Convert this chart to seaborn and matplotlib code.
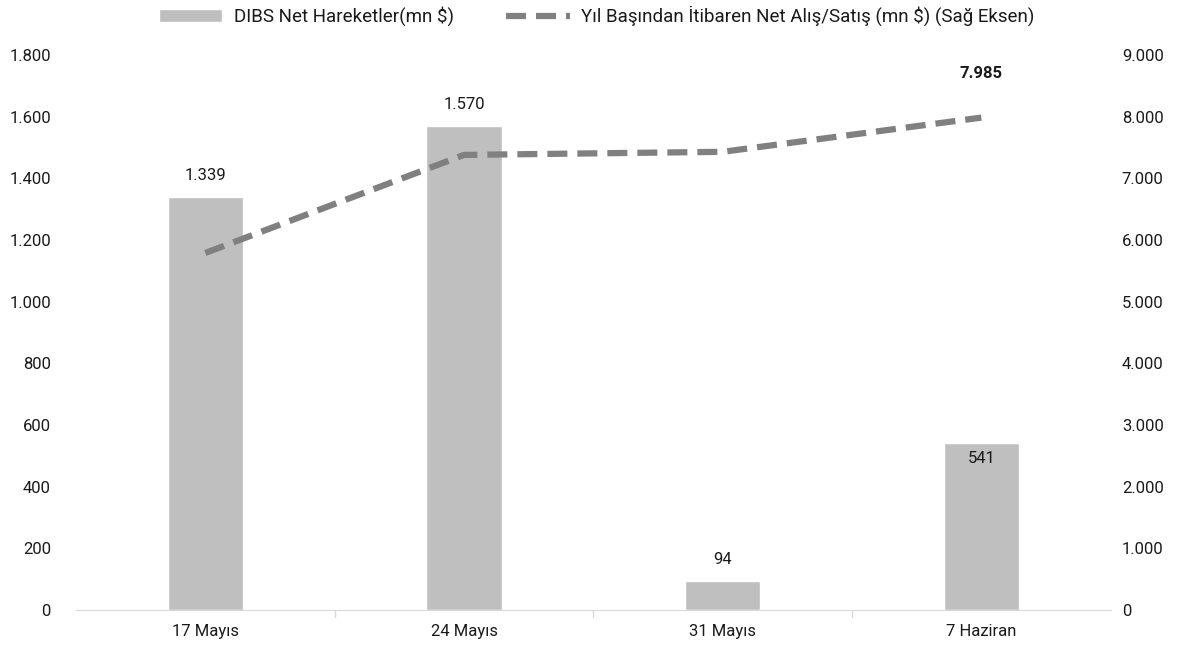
import pandas as pd
import matplotlib
matplotlib.use('Agg')
import matplotlib.pyplot as plt
import matplotlib.ticker as mticker
import seaborn as sns

categories = ['17 Mayıs', '24 Mayıs', '31 Mayıs', '7 Haziran']
net_moves = [1339, 1570, 94, 541]
ytd_net = [5790, 7380, 7430, 7985]

bar_label = 'DIBS Net Hareketler(mn $)'
line_label = 'Yıl Başından İtibaren Net Alış/Satış (mn $) (Sağ Eksen)'

sns.set_style('white')
plt.rcParams['font.family'] = ['Roboto', 'DejaVu Sans']
plt.rcParams['text.color'] = '#1a1a1a'
plt.rcParams['xtick.color'] = '#1a1a1a'
plt.rcParams['ytick.color'] = '#1a1a1a'

df = pd.DataFrame({'Tarih': categories, 'Net': net_moves, 'YTD': ytd_net})


def dot_fmt(v, pos=None):
    return f'{int(v):,}'.replace(',', '.')


fig = plt.figure(figsize=(11.93, 6.51), dpi=100)
ax = fig.add_axes([0.0637, 0.063, 0.8673, 0.8525])

sns.barplot(data=df, x='Tarih', y='Net', color='#BFBFBF', width=0.29,
            saturation=1, ax=ax, label=bar_label)
ax.set_ylim(0, 1800)
ax.set_xlim(-0.5, 3.5)
ax.yaxis.set_major_locator(mticker.MultipleLocator(200))
ax.yaxis.set_major_formatter(mticker.FuncFormatter(dot_fmt))
ax.set_xlabel('')
ax.set_ylabel('')

ax2 = ax.twinx()
sns.lineplot(x=range(len(categories)), y=ytd_net, color='#808080', lw=4.5,
             dashes=False, ax=ax2, label=line_label)
ax2.lines[0].set_linestyle((0, (3.2, 1.6)))
ax2.set_ylim(0, 9000)
ax2.yaxis.set_major_locator(mticker.MultipleLocator(1000))
ax2.yaxis.set_major_formatter(mticker.FuncFormatter(dot_fmt))

for a in (ax, ax2):
    for s in ['top', 'left', 'right']:
        a.spines[s].set_visible(False)
    a.tick_params(axis='y', length=0, labelsize=12)
ax.spines['bottom'].set_color('#D9D9D9')
ax.tick_params(axis='x', length=0, labelsize=12, pad=10)
ax2.spines['bottom'].set_visible(False)
ax.tick_params(axis='y', pad=18)
ax2.tick_params(axis='y', pad=8)

# small separators between categories
for x in [0.5, 1.5, 2.5]:
    ax.plot([x, x], [0, -0.012], transform=ax.get_xaxis_transform(),
            color='#D9D9D9', lw=1, clip_on=False)

# bar data labels
for i, v in enumerate(net_moves):
    if i == 3:
        ax.text(i, v - 25, dot_fmt(v), ha='center', va='top', fontsize=12)
    else:
        ax.text(i, v + 45, dot_fmt(v), ha='center', va='bottom', fontsize=12)

ax2.text(3, ytd_net[3] + 600, dot_fmt(ytd_net[3]), ha='center', va='bottom',
         fontsize=12, fontweight='bold')

h1, l1 = ax.get_legend_handles_labels()
h2, l2 = ax2.get_legend_handles_labels()
if ax2.get_legend():
    ax2.get_legend().remove()
if ax.get_legend():
    ax.get_legend().remove()
fig.legend(h1 + h2, l1 + l2, loc='center', bbox_to_anchor=(0.5, 0.975),
           ncol=2, frameon=False, fontsize=13.5, handlelength=3.4,
           columnspacing=2.8, handletextpad=0.6)

fig.savefig('out.png', dpi=100)
